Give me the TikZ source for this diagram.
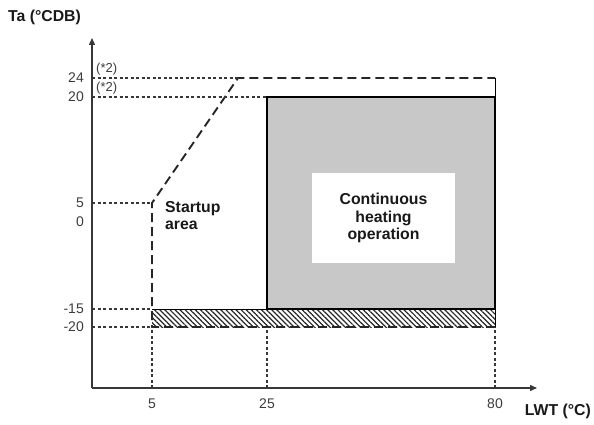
\documentclass[tikz,border=0pt]{standalone}
\usepackage{fontspec}
\setmainfont{Liberation Sans}
\usetikzlibrary{arrows.meta,patterns.meta}
\definecolor{areagray}{RGB}{200,200,200}
\definecolor{axisgray}{RGB}{55,55,55}
\definecolor{ticktext}{RGB}{60,60,60}
\tikzset{
  axisline/.style={line width=1.4pt, draw=axisgray, -{Triangle[length=7pt,width=6pt]}},
  guide/.style={line width=1.1pt, draw=axisgray, dash pattern=on 3pt off 2.5pt},
  limitline/.style={line width=1.9pt, draw=black!85, dash pattern=on 9pt off 5pt},
  ticklbl/.style={font=\fontsize{14}{16}\selectfont, text=ticktext, inner sep=0pt},
  notelbl/.style={font=\fontsize{13}{15}\selectfont, text=ticktext, inner sep=0pt, anchor=west},
  boldlbl/.style={font=\bfseries\fontsize{15.8}{17.5}\selectfont, text=black!90, inner sep=0pt},
}
\begin{document}
\begin{tikzpicture}[x=1pt,y=-1pt]
\useasboundingbox (0,0) rectangle (594,425);

% origin and reference points
\coordinate (O) at (92,388);
\coordinate (ytop) at (92,38);
\coordinate (xend) at (537,388);

% hatched band between -20 and -15
\fill[pattern={Lines[angle=-45,distance=3.6pt,line width=1.2pt]}, pattern color=black!85]
  (152,309) rectangle (495,327);
\draw[line width=0.9pt] (152,309) -- (495,309) -- (495,327);

% continuous heating area
\draw[line width=2pt, fill=areagray] (267,97) rectangle (495,309);
\fill[white] (312,173) rectangle (455,263);

% startup area boundary
\draw[limitline] (495,327) -- (152,327) -- (152,203) -- (238,78) -- (495,78);
\draw[line width=1pt] (495,78) -- (495,97);

% guide lines
\draw[guide] (92,78) -- (238,78);
\draw[guide] (92,97) -- (267,97);
\draw[guide] (92,203) -- (152,203);
\draw[guide] (92,309) -- (152,309);
\draw[guide] (92,327) -- (152,327);
\draw[guide] (152,388) -- (152,327);
\draw[guide] (267,388) -- (267,327);
\draw[guide] (495,388) -- (495,327);

% axes
\draw[axisline] (O) -- (ytop);
\draw[axisline] (O) -- (xend);

% axis titles
\node[boldlbl, anchor=west] (ytitle) at (8,17) {Ta (°CDB)};
\node[boldlbl, anchor=east] (xtitle) at (591,411) {LWT (°C)};

% y tick labels
\node[ticklbl, anchor=east] (y24) at (84,78) {24};
\node[ticklbl, anchor=east] (y20) at (84,97) {20};
\node[ticklbl, anchor=east] (y5) at (84,203) {5};
\node[ticklbl, anchor=east] (y0) at (84,222) {0};
\node[ticklbl, anchor=east] (ym15) at (84,309) {-15};
\node[ticklbl, anchor=east] (ym20) at (84,327) {-20};

% x tick labels
\node[ticklbl] (x5) at (152,404) {5};
\node[ticklbl] (x25) at (267,404) {25};
\node[ticklbl] (x80) at (495,404) {80};

% notes
\node[notelbl] (n24) at (96,69) {(*2)};
\node[notelbl] (n20) at (96,88) {(*2)};

% area labels
\node[boldlbl, anchor=north west, align=left] (startup) at (165,201) {Startup\\area};
\node[boldlbl, align=center] (cont) at (383.5,218) {Continuous\\heating\\operation};
\end{tikzpicture}
\end{document}
